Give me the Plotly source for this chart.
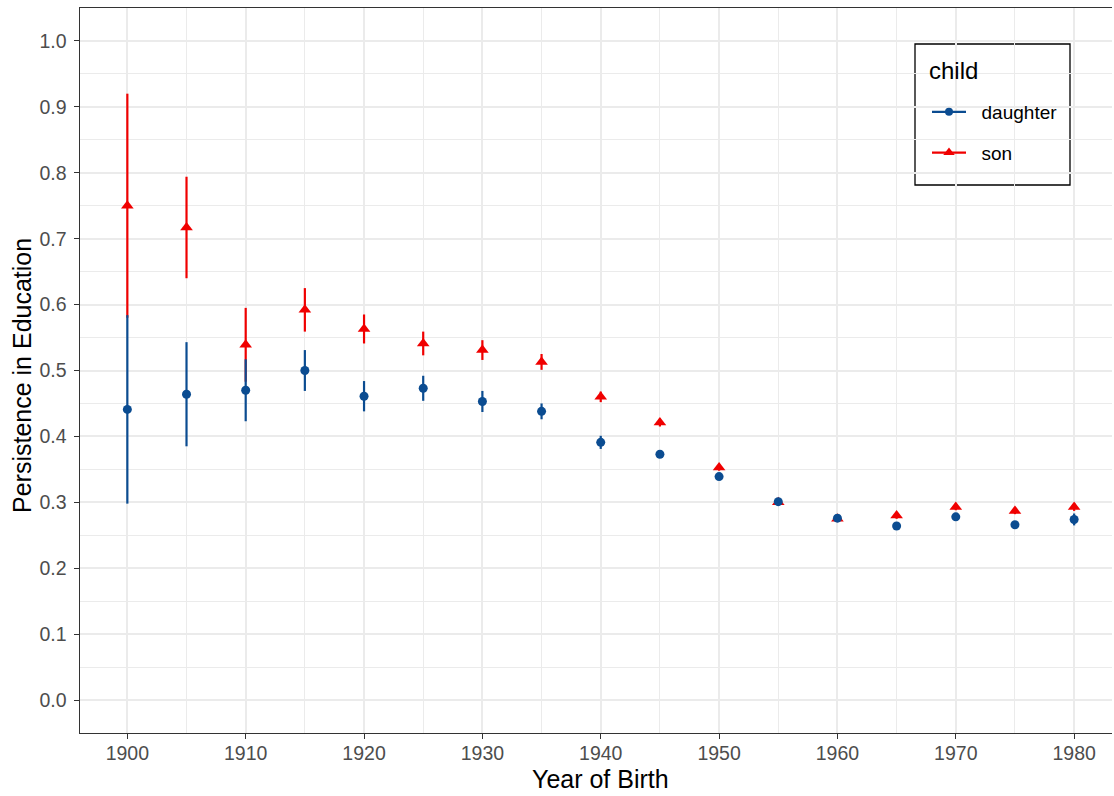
import plotly.graph_objects as go

years = [1900, 1905, 1910, 1915, 1920, 1925, 1930, 1935, 1940,
         1945, 1950, 1955, 1960, 1965, 1970, 1975, 1980]
daughter = [0.441, 0.464, 0.470, 0.500, 0.461, 0.473, 0.453, 0.438, 0.391,
            0.373, 0.339, 0.301, 0.276, 0.264, 0.278, 0.266, 0.274]
daughter_err = [0.143, 0.079, 0.047, 0.031, 0.023, 0.019, 0.016, 0.012, 0.010,
                0.005, 0.005, 0.005, 0.005, 0.005, 0.005, 0.005, 0.009]
son = [0.750, 0.717, 0.539, 0.592, 0.563, 0.541, 0.531, 0.513, 0.460,
       0.421, 0.353, 0.300, 0.275, 0.280, 0.293, 0.287, 0.293]
son_err = [0.170, 0.077, 0.056, 0.033, 0.022, 0.018, 0.015, 0.012, 0.008,
           0.006, 0.005, 0.005, 0.005, 0.005, 0.005, 0.005, 0.006]

x_ticks = [1900, 1910, 1920, 1930, 1940, 1950, 1960, 1970, 1980]
y_ticks = [0.0, 0.1, 0.2, 0.3, 0.4, 0.5, 0.6, 0.7, 0.8, 0.9, 1.0]
y_tick_labels = [f"{v:.1f}" for v in y_ticks]
legend_names = ["daughter", "son"]

BLUE = "#0B4C91"
RED = "#F00000"
FONT = "Liberation Sans"
NBSP = "\u00a0"

W, H = 1114, 796
ML, MR, MT, MB = 80, 2, 8, 63
PW, PH = W - ML - MR, H - MT - MB


def px_x(p):
    return (p - ML) / PW


def px_y(p):
    return (H - MB - p) / PH


fig = go.Figure()

# son drawn first (underneath)
fig.add_trace(go.Scatter(
    x=years, y=son, mode="markers", showlegend=False,
    marker=dict(symbol="triangle-up", size=11, color=RED),
    error_y=dict(type="data", array=son_err, visible=True, width=0,
                 thickness=2.2, color=RED),
))
fig.add_trace(go.Scatter(
    x=years, y=daughter, mode="markers", showlegend=False,
    marker=dict(symbol="circle", size=9, color=BLUE),
    error_y=dict(type="data", array=daughter_err, visible=True, width=0,
                 thickness=2.2, color=BLUE),
))

# legend entries
fig.add_trace(go.Scatter(
    x=[None], y=[None], mode="lines+markers", name=NBSP * 2 + legend_names[0],
    legendgroup="d", legendrank=1,
    line=dict(color=BLUE, width=2.2),
    marker=dict(symbol="circle", size=8, color=BLUE),
))
fig.add_trace(go.Scatter(
    x=[None], y=[None], mode="lines+markers", name=NBSP * 2 + legend_names[1],
    legendgroup="s", legendrank=2,
    line=dict(color=RED, width=2.2),
    marker=dict(symbol="triangle-up", size=10, color=RED),
))

# legend box
fig.add_shape(type="rect", xref="paper", yref="paper",
              x0=px_x(915), x1=px_x(1070), y0=px_y(185), y1=px_y(44),
              line=dict(color="black", width=1.3), fillcolor="white",
              layer="between")

fig.add_annotation(text="child", xref="paper", yref="paper",
                   x=px_x(927), y=px_y(70), xanchor="left", yanchor="middle",
                   showarrow=False, font=dict(size=24, family=FONT, color="black"))
fig.add_annotation(text="Year of Birth", xref="paper", yref="paper",
                   x=px_x(600), y=px_y(779), xanchor="center", yanchor="middle",
                   showarrow=False, font=dict(size=25, family=FONT, color="black"))
fig.add_annotation(text="Persistence in Education", xref="paper", yref="paper",
                   x=px_x(22), y=px_y(376), xanchor="center", yanchor="middle",
                   textangle=-90,
                   showarrow=False, font=dict(size=25, family=FONT, color="black"))

grid = "#EBEBEB"
fig.update_layout(
    width=W, height=H,
    margin=dict(l=ML, r=MR, t=MT, b=MB),
    paper_bgcolor="white", plot_bgcolor="white",
    font=dict(family=FONT, color="#000000"),
    legend=dict(
        x=px_x(927), y=px_y(93), xanchor="left", yanchor="top",
        bgcolor="rgba(0,0,0,0)", borderwidth=0,
        font=dict(size=19, family=FONT, color="black"),
        traceorder="grouped", tracegroupgap=13,
        itemwidth=34,
    ),
    xaxis=dict(
        range=[1896, 1983.2], automargin=False,
        tickmode="array", tickvals=x_ticks, ticktext=[str(v) for v in x_ticks],
        showgrid=True, gridcolor=grid, gridwidth=1.6,
        minor=dict(dtick=5, tick0=1900, showgrid=True, gridcolor=grid, gridwidth=0.9),
        showline=True, linecolor="#333333", linewidth=1.2, mirror=True,
        ticks="outside", ticklen=4.5, tickwidth=1.2, tickcolor="#333333",
        tickfont=dict(size=19.5, color="#4D4D4D", family=FONT),
        ticklabelstandoff=-2,
        zeroline=False,
    ),
    yaxis=dict(
        range=[-0.05, 1.05], automargin=False,
        tickmode="array", tickvals=y_ticks, ticktext=y_tick_labels,
        showgrid=True, gridcolor=grid, gridwidth=1.6,
        minor=dict(dtick=0.05, tick0=0, showgrid=True, gridcolor=grid, gridwidth=0.9),
        showline=True, linecolor="#333333", linewidth=1.2, mirror=False,
        ticks="outside", ticklen=4.5, tickwidth=1.2, tickcolor="#333333",
        tickfont=dict(size=19.5, color="#4D4D4D", family=FONT),
        ticklabelstandoff=4,
        zeroline=False,
    ),
)

fig.write_html("out.html",
               config={"displayModeBar": False},
               post_script="document.body.style.margin='0';document.body.style.overflow='hidden';")
